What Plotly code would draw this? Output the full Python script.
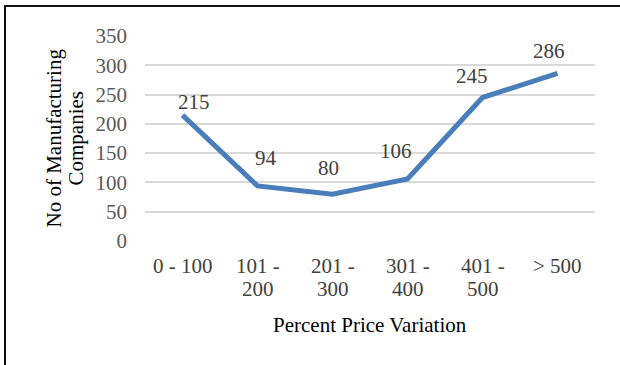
import plotly.graph_objects as go

# Number of manufacturing companies per percent price variation band
categories = ["0 - 100", "101 - 200", "201 - 300", "301 - 400", "401 - 500", "> 500"]
tick_lines = [["0 - 100"], ["101 -", "200"], ["201 -", "300"],
              ["301 -", "400"], ["401 -", "500"], ["> 500"]]
companies = [215, 94, 80, 106, 245, 286]
y_ticks = [0, 50, 100, 150, 200, 250, 300, 350]
y_title_lines = ["No of Manufacturing", "Companies"]

# pixel nudges for the value labels so they clear the line
label_dx = [11, 8, -4, -12, -11, -9]
label_dy = [13, 28, 26, 28, 22, 22]

FONT = "Liberation Serif"
FS = 21
W, H = 620, 365
L, R, T, B = 145, 25, 36, 124
pw, ph = W - L - R, H - T - B


def px_x(x):
    return (x - L) / pw


def px_y(y):
    return ((H - B) - y) / ph


fig = go.Figure()
fig.add_trace(go.Scatter(
    x=categories, y=companies, mode="lines",
    line=dict(color="#4a7ebb", width=5),
    hoverinfo="skip", showlegend=False,
))

# value labels
for cat, val, dx, dy in zip(categories, companies, label_dx, label_dy):
    fig.add_annotation(
        x=cat, y=val, text=str(val), showarrow=False,
        xshift=dx, yshift=dy, yanchor="middle",
        font=dict(family=FONT, size=FS, color="#404040"),
    )

# category labels, one row per text line
for cat, lines in zip(categories, tick_lines):
    for i, line in enumerate(lines):
        fig.add_annotation(
            x=cat, xref="x", yref="paper", y=px_y(266 + 23 * i),
            text=line, showarrow=False, yanchor="middle",
            font=dict(family=FONT, size=FS, color="#404040"),
        )

# axis titles
for i, line in enumerate(y_title_lines):
    fig.add_annotation(
        xref="paper", yref="paper", x=px_x(53 + 22 * i), y=0.5,
        text=line, textangle=-90, showarrow=False,
        xanchor="center", yanchor="middle",
        font=dict(family=FONT, size=FS, color="#000000"),
    )
fig.add_annotation(
    xref="paper", yref="paper", x=0.5, y=px_y(325),
    text="Percent Price Variation", showarrow=False,
    xanchor="center", yanchor="middle",
    font=dict(family=FONT, size=FS, color="#000000"),
)

# outer frame (left and top edges visible)
fig.add_shape(
    type="rect", xref="paper", yref="paper",
    x0=px_x(5), x1=px_x(W + 10), y0=px_y(H + 10), y1=px_y(6),
    line=dict(color="#111111", width=2), layer="below",
)

fig.update_layout(
    width=W, height=H,
    margin=dict(l=L, r=R, t=T, b=B),
    paper_bgcolor="white", plot_bgcolor="white",
    font=dict(family=FONT, size=FS, color="#595959"),
    xaxis=dict(
        type="category", range=[-0.5, 5.5], showgrid=False,
        zeroline=False, showline=False, ticks="", showticklabels=False,
    ),
    yaxis=dict(
        range=[0, 350], tickvals=y_ticks, showgrid=True,
        gridcolor="#d9d9d9", gridwidth=1.5, zeroline=False,
        showline=False, ticks="", ticklabelstandoff=17,
        tickfont=dict(family=FONT, size=FS, color="#595959"),
    ),
)

fig.write_html("out.html")
